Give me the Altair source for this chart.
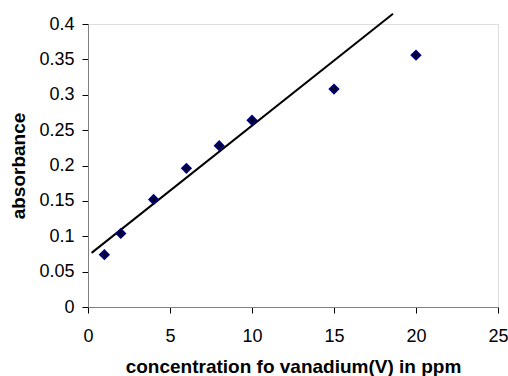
import altair as alt
import pandas as pd

conc = [1, 2, 4, 6, 8, 10, 15, 20]
absorb = [0.074, 0.104, 0.152, 0.196, 0.228, 0.264, 0.308, 0.356]
line_x = [0.22, 18.6]
line_y = [0.0765, 0.4146]
x_ticks = [0, 5, 10, 15, 20, 25]
y_ticks = [0, 0.05, 0.1, 0.15, 0.2, 0.25, 0.3, 0.35, 0.4]

pts = pd.DataFrame({"x": conc, "y": absorb})
ln = pd.DataFrame({"x": line_x, "y": line_y})

xs = alt.Scale(domain=[0, 25], nice=False, zero=False)
ys = alt.Scale(domain=[0, 0.4], nice=False, zero=False)

font = "Liberation Sans"

xaxis = alt.Axis(
    title="concentration fo vanadium(V) in ppm",
    values=x_ticks, tickCount=20, format="~g", grid=False,
    domainColor="#808080", tickColor="#000000", tickSize=6,
    labelFont=font, labelFontSize=18, labelColor="#000000",
    labelBaseline="alphabetic", labelPadding=28, labelFlush=False, labelOverlap=False,
    titleFont=font, titleFontSize=19, titleFontWeight="bold", titleColor="#000000",
    titleBaseline="alphabetic", titleY=65, titleX=205,
)
yaxis = alt.Axis(
    title="absorbance",
    values=y_ticks, tickCount=20, format="~g", grid=False,
    domainColor="#808080", tickColor="#000000", tickSize=6,
    labelFont=font, labelFontSize=18, labelColor="#000000",
    labelPadding=8, labelFlush=False, labelOverlap=False, labelBound=False,
    titleFont=font, titleFontSize=19, titleFontWeight="bold", titleColor="#000000",
    titleBaseline="alphabetic", titleX=-64, titleY=141.5, titleAngle=270, titleAlign="center",
)

line = alt.Chart(ln).mark_line(color="#000000", strokeWidth=2).encode(
    x=alt.X("x:Q", scale=xs, axis=xaxis),
    y=alt.Y("y:Q", scale=ys, axis=yaxis),
)
points = alt.Chart(pts).mark_point(
    shape="diamond", size=85, filled=True, fill="#000033", stroke="#000080",
    strokeWidth=1.5, opacity=1,
).encode(
    x=alt.X("x:Q", scale=xs),
    y=alt.Y("y:Q", scale=ys),
)

chart = alt.layer(line, points).properties(
    width=410, height=283,
    autosize=alt.AutoSizeParams(type="none"),
    padding={"left": 88, "top": 24, "right": 10, "bottom": 69},
).configure_view(stroke=None).configure(background="#ffffff")

chart.save("out.html", embed_options={"renderer": "svg", "actions": False})
